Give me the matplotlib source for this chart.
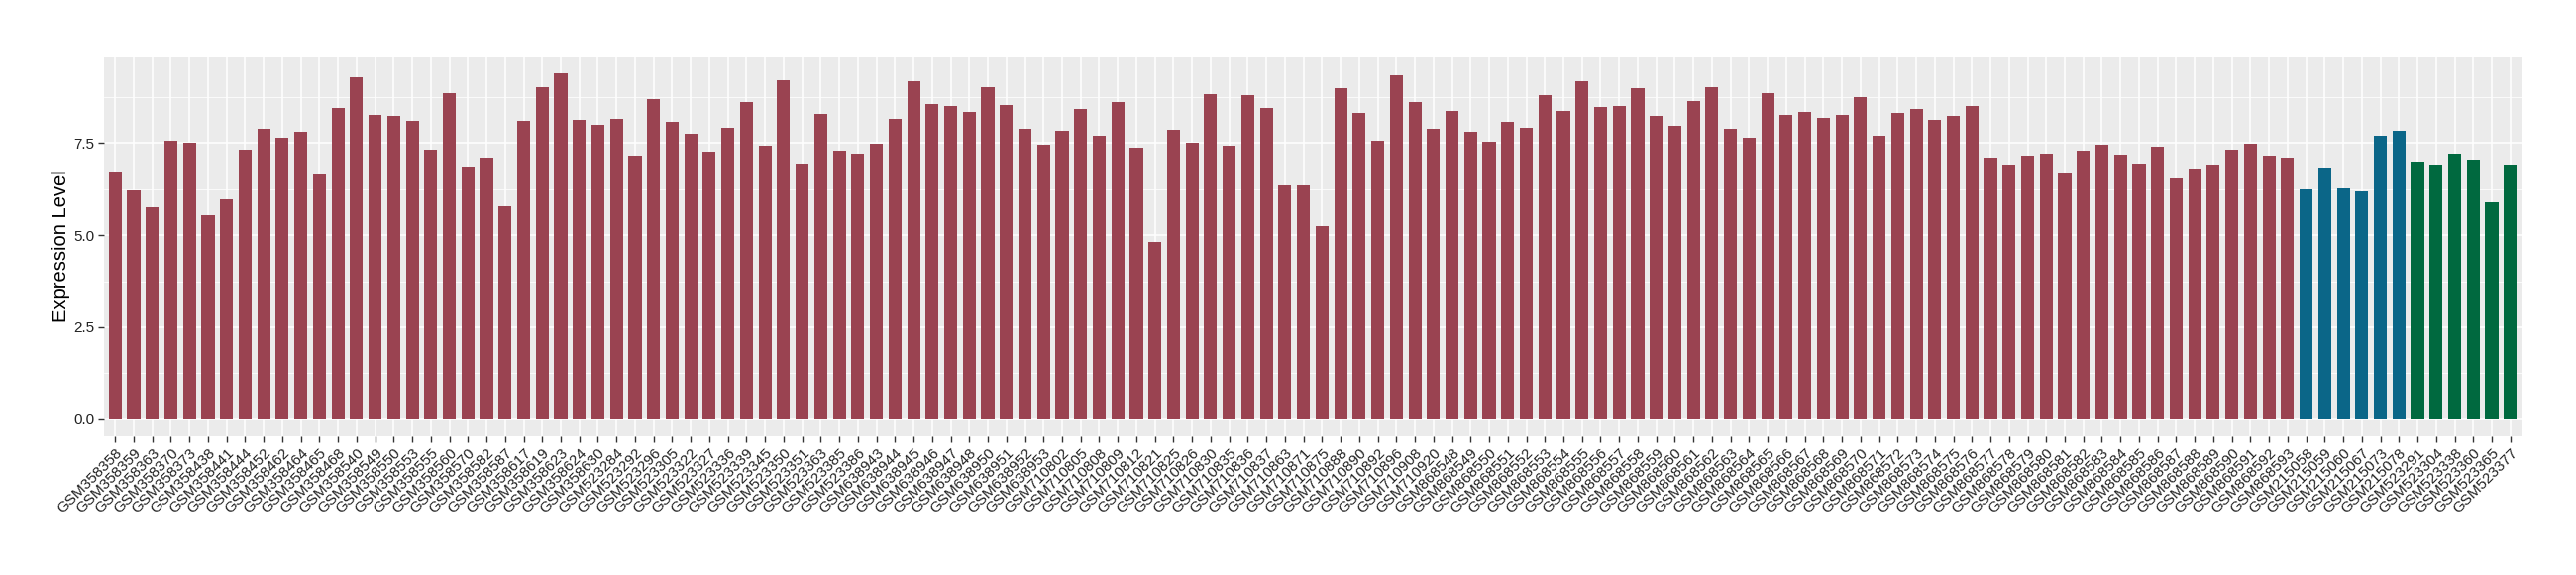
import matplotlib

matplotlib.use("Agg")
import matplotlib.pyplot as plt
from matplotlib.ticker import FixedLocator

plt.rcParams["font.family"] = ["Liberation Sans", "DejaVu Sans"]

# --- data ----------------------------------------------------------------- #
SAMPLES_A = [
    "GSM358358", "GSM358359", "GSM358363", "GSM358370", "GSM358373", "GSM358438",
    "GSM358441", "GSM358444", "GSM358452", "GSM358462", "GSM358464", "GSM358465",
    "GSM358468", "GSM358540", "GSM358549", "GSM358550", "GSM358553", "GSM358555",
    "GSM358560", "GSM358570", "GSM358582", "GSM358587", "GSM358617", "GSM358619",
    "GSM358623", "GSM358624", "GSM358630",
    "GSM523284", "GSM523292", "GSM523296", "GSM523305", "GSM523322", "GSM523327",
    "GSM523336", "GSM523339", "GSM523345", "GSM523350", "GSM523351", "GSM523363",
    "GSM523385", "GSM523386",
    "GSM638943", "GSM638944", "GSM638945", "GSM638946", "GSM638947", "GSM638948",
    "GSM638950", "GSM638951", "GSM638952", "GSM638953",
    "GSM710802", "GSM710805", "GSM710808", "GSM710809", "GSM710812", "GSM710821",
    "GSM710825", "GSM710826", "GSM710830", "GSM710835", "GSM710836", "GSM710837",
    "GSM710863", "GSM710871", "GSM710875", "GSM710888", "GSM710890", "GSM710892",
    "GSM710896", "GSM710908", "GSM710920",
    "GSM868548", "GSM868549", "GSM868550", "GSM868551", "GSM868552", "GSM868553",
    "GSM868554", "GSM868555", "GSM868556", "GSM868557", "GSM868558", "GSM868559",
    "GSM868560", "GSM868561", "GSM868562", "GSM868563", "GSM868564", "GSM868565",
    "GSM868566", "GSM868567", "GSM868568", "GSM868569", "GSM868570", "GSM868571",
    "GSM868572", "GSM868573", "GSM868574", "GSM868575", "GSM868576", "GSM868577",
    "GSM868578", "GSM868579", "GSM868580", "GSM868581", "GSM868582", "GSM868583",
    "GSM868584", "GSM868585", "GSM868586", "GSM868587", "GSM868588", "GSM868589",
    "GSM868590", "GSM868591", "GSM868592", "GSM868593",
]
VALUES_A = [
    6.73, 6.22, 5.76, 7.56, 7.51, 5.55, 5.98, 7.32, 7.89, 7.64, 7.80, 6.65,
    8.45, 9.28, 8.26, 8.23, 8.10, 7.32, 8.85, 6.86, 7.11, 5.79, 8.10, 9.01,
    9.39, 8.13, 7.99,
    8.15, 7.16, 8.69, 8.07, 7.75, 7.27, 7.91, 8.61, 7.43, 9.20, 6.94, 8.29,
    7.29, 7.21,
    7.48, 8.15, 9.18, 8.56, 8.50, 8.34, 9.01, 8.53, 7.89, 7.46,
    7.83, 8.42, 7.70, 8.61, 7.37, 4.82, 7.86, 7.51, 8.83, 7.43, 8.80, 8.45,
    6.35, 6.35, 5.25, 8.99, 8.32, 7.56, 9.34, 8.61, 7.89,
    8.37, 7.80, 7.54, 8.07, 7.91, 8.80, 8.37, 9.18, 8.48, 8.50, 8.99, 8.23,
    7.97, 8.64, 9.01, 7.89, 7.64, 8.85, 8.26, 8.34, 8.18, 8.26, 8.75, 7.70,
    8.32, 8.42, 8.13, 8.23, 8.50, 7.11, 6.92, 7.16, 7.21, 6.68, 7.29, 7.46,
    7.19, 6.94, 7.40, 6.54, 6.81, 6.92, 7.32, 7.48, 7.16, 7.11,
]

SAMPLES_B = ["GSM215058", "GSM215059", "GSM215060", "GSM215067", "GSM215073", "GSM215078"]
VALUES_B = [6.25, 6.84, 6.27, 6.19, 7.70, 7.83]

SAMPLES_C = ["GSM523291", "GSM523304", "GSM523338", "GSM523360", "GSM523365", "GSM523377"]
VALUES_C = [7.00, 6.92, 7.21, 7.05, 5.90, 6.92]

GROUP_COLORS = ["#9A4351", "#0B6688", "#00693F"]

Y_TICKS = [0.0, 2.5, 5.0, 7.5]
Y_MINOR = [1.25, 3.75, 6.25, 8.75]

# --- figure ---------------------------------------------------------------- #
samples = SAMPLES_A + SAMPLES_B + SAMPLES_C
values = VALUES_A + VALUES_B + VALUES_C
colors = ([GROUP_COLORS[0]] * len(SAMPLES_A) + [GROUP_COLORS[1]] * len(SAMPLES_B)
          + [GROUP_COLORS[2]] * len(SAMPLES_C))
xpos = list(range(len(samples)))

fig = plt.figure(figsize=(26, 5.8), dpi=100)
ax = fig.add_axes([105 / 2600, 1 - 440 / 580, 2440 / 2600, 383 / 580])
ax.set_facecolor("#EBEBEB")
for s in ax.spines.values():
    s.set_visible(False)

ax.bar(xpos, values, width=0.7, color=colors, zorder=3)

ymax = max(values)
ax.set_ylim(-0.05 * ymax, 1.05 * ymax)
ax.set_xlim(-0.6, len(samples) - 1 + 0.6)

ax.yaxis.set_major_locator(FixedLocator(Y_TICKS))
ax.yaxis.set_minor_locator(FixedLocator(Y_MINOR))
ax.set_yticklabels([f"{t:.1f}" for t in Y_TICKS])
ax.set_xticks(xpos)
ax.set_xticklabels(samples, rotation=45, ha="right", va="top",
                   rotation_mode="anchor")

ax.grid(which="major", color="white", lw=1.1, zorder=0)
ax.grid(which="minor", axis="y", color="white", lw=0.55, zorder=0)
ax.tick_params(which="major", length=4, width=1, color="#333333",
               labelcolor="#222222", labelsize=11, pad=3)
ax.tick_params(which="minor", length=0)

ax.set_ylabel("Expression Level", fontsize=14.5, labelpad=2)

fig.savefig("out.png", dpi=100)
